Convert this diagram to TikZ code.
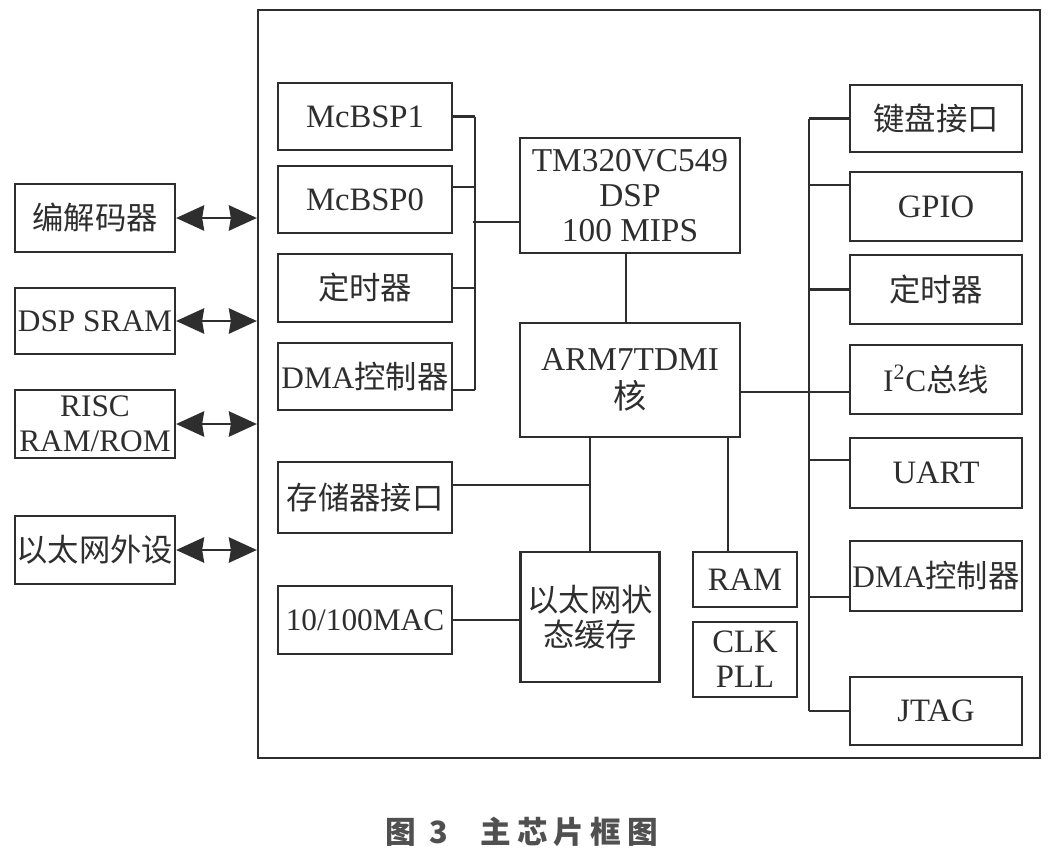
\documentclass[tikz,border=0pt]{standalone}
\usepackage{fontspec}
\setmainfont{Liberation Serif}
\newfontfamily\cjk{Noto Sans CJK SC}
\usetikzlibrary{arrows.meta}
\definecolor{ink}{HTML}{2E2E2E}
\definecolor{capink}{HTML}{505050}
\begin{document}
\begin{tikzpicture}[x=0.75pt,y=-0.75pt,
  box/.style={draw=ink, line width=1.7pt, inner sep=0pt, align=center, text=ink,
    font=\fontsize{23.5}{26}\selectfont},
  bigtext/.style={font=\fontsize{25}{26.5}\selectfont},
  midtext/.style={font=\fontsize{24.5}{26}\selectfont},
  wire/.style={draw=ink, line width=1.7pt},
  biarrow/.style={wire, {Stealth[length=21pt,width=19pt,inset=1.5pt]}-{Stealth[length=21pt,width=19pt,inset=1.5pt]}}]
\useasboundingbox[fill=white] (0,0) rectangle (1057,864);

% chip outline
\node[box, minimum width=586.5pt, minimum height=561pt] (chip) at (649,384) {};

% external devices
\node[box, minimum width=120pt, minimum height=51pt] (codec) at (95,218) {\cjk 编解码器};
\node[box, minimum width=120pt, minimum height=49.5pt] (sram) at (95,321) {DSP SRAM};
\node[box, minimum width=120pt, minimum height=51pt] (risc) at (95,424) {RISC\\RAM/ROM};
\node[box, minimum width=120pt, minimum height=51pt] (ethp) at (95,550) {\cjk 以太网外设};

\draw[biarrow] (codec.east) -- (codec.east -| chip.west);
\draw[biarrow] (sram.east) -- (sram.east -| chip.west);
\draw[biarrow] (risc.east) -- (risc.east -| chip.west);
\draw[biarrow] (ethp.east) -- (ethp.east -| chip.west);

% DSP peripherals (left column)
\node[box, midtext, minimum width=130.5pt, minimum height=50.25pt] (mcbsp1) at (365,116.5) {McBSP1};
\node[box, midtext, minimum width=130.5pt, minimum height=50.25pt] (mcbsp0) at (365,199.5) {McBSP0};
\node[box, minimum width=130.5pt, minimum height=51pt] (timer1) at (365,288) {\cjk 定时器};
\node[box, minimum width=130.5pt, minimum height=50.25pt] (dma1) at (365,376.5) {DMA{\cjk 控制器}};

% cores
\node[box, bigtext, minimum width=165pt, minimum height=86.25pt] (tm) at (630,195.5) {TM320VC549\\DSP\\100 MIPS};
\node[box, bigtext, minimum width=165pt, minimum height=85.5pt] (arm) at (630,380) {ARM7TDMI\\[2pt]{\cjk 核}};

% lower blocks
\node[box, minimum width=130.5pt, minimum height=53.25pt] (mem) at (365,497.5) {\cjk 存储器接口};
\node[box, minimum width=130.5pt, minimum height=51pt] (mac) at (365,620) {10/100MAC};
\node[box, minimum width=104.25pt, minimum height=97.5pt] (ethbuf) at (590,617) {\cjk 以太网状\\\cjk 态缓存};
\node[box, midtext, minimum width=78pt, minimum height=41.25pt] (ram) at (745,579.5) {RAM};
\node[box, midtext, minimum width=78pt, minimum height=56.25pt] (clk) at (745,659.5) {CLK\\PLL};

% ARM peripherals (right column)
\node[box, minimum width=129pt, minimum height=50.25pt] (kb) at (936,118.5) {\cjk 键盘接口};
\node[box, midtext, minimum width=129pt, minimum height=51.75pt] (gpio) at (936,206.5) {GPIO};
\node[box, minimum width=129pt, minimum height=51.75pt] (timer2) at (936,289.5) {\cjk 定时器};
\node[box, minimum width=129pt, minimum height=51.75pt] (i2c) at (936,379.5) {I\textsuperscript{2}C{\cjk 总线}};
\node[box, midtext, minimum width=129pt, minimum height=52.5pt] (uart) at (936,473) {UART};
\node[box, minimum width=129pt, minimum height=52.5pt] (dma2) at (936,576) {DMA{\cjk 控制器}};
\node[box, midtext, minimum width=129pt, minimum height=51pt] (jtag) at (936,711) {JTAG};

% left bus
\draw[wire] (mcbsp1.east) -- ++(16.5pt,0) coordinate (lbT);
\draw[wire] ([yshift=9.4pt]mcbsp0.east) -- ++(16.5pt,0);
\draw[wire] (timer1.east) -- ++(16.5pt,0);
\draw[wire] ([yshift=-10pt]dma1.east) -- ++(16.5pt,0) coordinate (lbB);
\draw[wire] (lbT) -- (lbB);
\draw[wire] ([yshift=-20pt]tm.west) -- ++(-34.5pt,0);

% DSP to ARM
\draw[wire] ([xshift=-3pt]tm.south) -- ([xshift=-3pt]arm.north);

% right bus
\draw[wire] (kb.west) -- ++(-30pt,0) coordinate (rbT);
\draw[wire] ([yshift=16pt]gpio.west) -- ++(-30pt,0);
\draw[wire] (timer2.west) -- ++(-30pt,0);
\draw[wire] ([yshift=-9.4pt]i2c.west) -- ++(-30pt,0);
\draw[wire] ([yshift=9.75pt]uart.west) -- ++(-30pt,0);
\draw[wire] ([yshift=-15.75pt]dma2.west) -- ++(-30pt,0);
\draw[wire] (jtag.west) -- ++(-30pt,0) coordinate (rbB);
\draw[wire] (rbT) -- (rbB);
\draw[wire] ([yshift=-9pt]arm.east) -- ++(52.5pt,0);

% lower connections
\draw[wire] (ethbuf.north) -- (ethbuf.north |- arm.south);
\draw[wire] ([yshift=9.4pt]mem.east) -- ++(103.5pt,0);
\draw[wire] (mac.east) -- (mac.east -| ethbuf.west);
\draw[wire] ([xshift=-12.75pt]ram.north) -- ++(0,86.25pt);

% caption
\node[text=capink, font=\cjk\bfseries\fontsize{23}{26}\selectfont] (cap) at (522,832)
  {图\hspace{10pt}3\hspace{24pt}主\hspace{4.5pt}芯\hspace{4.5pt}片\hspace{4.5pt}框\hspace{4.5pt}图};
\end{tikzpicture}
\end{document}
